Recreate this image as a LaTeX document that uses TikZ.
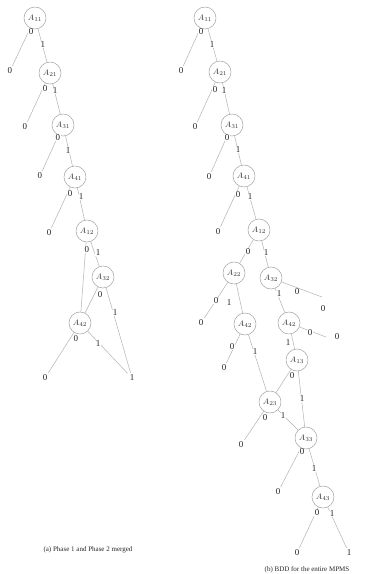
\documentclass[tikz,border=0pt]{standalone}
\usepackage{fontspec}
\setmainfont{Liberation Serif}
\begin{document}
\begin{tikzpicture}[x=1pt,y=-1pt,
  var/.style={circle,draw=black!35,line width=0.55pt,minimum size=22pt,inner sep=0pt,font=\fontsize{8.5}{9}\selectfont,text=black!80},
  term/.style={inner sep=2pt,font=\fontsize{9}{10}\selectfont,text=black!85},
  lab/.style={fill=white,inner sep=0.3pt,font=\fontsize{9}{10}\selectfont,text=black!85},
  conn/.style={draw=black!30,line width=0.5pt},
  captext/.style={font=\fontsize{7}{8}\selectfont,text=black!85}]
\useasboundingbox (0,0) rectangle (366,574);
% ---------- panel (a) ----------
\node[var] (a11) at (35,18) {$A_{11}$};
\node[var] (a21) at (50,73) {$A_{21}$};
\node[var] (a31) at (63,125) {$A_{31}$};
\node[var] (a41) at (75,177) {$A_{41}$};
\node[var] (a12) at (87,231) {$A_{12}$};
\node[var] (a32) at (103,277) {$A_{32}$};
\node[var] (a42) at (80,323) {$A_{42}$};
\node[term] (ta1) at (10,71) {0};
\node[term] (ta2) at (25,127) {0};
\node[term] (ta3) at (40,176) {0};
\node[term] (ta4) at (49,233) {0};
\node[term] (ta5) at (45,378) {0};
\node[term] (ta6) at (132,378) {1};
\draw[conn] (a11) -- (ta1);
\draw[conn] (a11) -- (a21);
\draw[conn] (a21) -- (ta2);
\draw[conn] (a21) -- (a31);
\draw[conn] (a31) -- (ta3);
\draw[conn] (a31) -- (a41);
\draw[conn] (a41) -- (ta4);
\draw[conn] (a41) -- (a12);
\draw[conn] (a12) -- (a42);
\draw[conn] (a12) -- (a32);
\draw[conn] (a32) -- (a42);
\draw[conn] (a32) -- (ta6);
\draw[conn] (a42) -- (ta5);
\draw[conn] (a42) -- (ta6);
\node[lab] (la1) at (31,32) {0};
\node[lab] (la2) at (43,45) {1};
\node[lab] (la3) at (45,89) {0};
\node[lab] (la4) at (55,91) {1};
\node[lab] (la5) at (58,138) {0};
\node[lab] (la6) at (68,151) {1};
\node[lab] (la7) at (70,194) {0};
\node[lab] (la8) at (81,197) {1};
\node[lab] (la9) at (87,250) {0};
\node[lab] (la10) at (98,253) {1};
\node[lab] (la11) at (100,295) {0};
\node[lab] (la12) at (115,313) {1};
\node[lab] (la13) at (76,339) {0};
\node[lab] (la14) at (98,344) {1};
\node[captext] (capa) at (88,550) {(a) Phase 1 and Phase 2 merged};
% ---------- panel (b) ----------
\node[var] (b11) at (205,18) {$A_{11}$};
\node[var] (b21) at (220,72) {$A_{21}$};
\node[var] (b31) at (232,125) {$A_{31}$};
\node[var] (b41) at (244,176) {$A_{41}$};
\node[var] (b12) at (259,230) {$A_{12}$};
\node[var] (b22) at (234,273) {$A_{22}$};
\node[var] (b32) at (271,278) {$A_{32}$};
\node[var] (b42l) at (245,324) {$A_{42}$};
\node[var] (b42r) at (289,323) {$A_{42}$};
\node[var] (b13) at (297,360) {$A_{13}$};
\node[var] (b23) at (270,402) {$A_{23}$};
\node[var] (b33) at (306,438) {$A_{33}$};
\node[var] (b43) at (323,497) {$A_{43}$};
\node[term] (tb1) at (181,71) {0};
\node[term] (tb2) at (195,127) {0};
\node[term] (tb3) at (209,177) {0};
\node[term] (tb4) at (218,232) {0};
\node[term] (tb5) at (201,323) {0};
\node[term] (tb6) at (323,309) {0};
\node[term] (tb7) at (337,337) {0};
\node[term] (tb8) at (224,368) {0};
\node[term] (tb9) at (241,445) {0};
\node[term] (tb10) at (278,492) {0};
\node[term] (tb11) at (297,553) {0};
\node[term] (tb12) at (349,553) {1};
\coordinate (e6) at (322,297);
\coordinate (e7) at (326,337);
\draw[conn] (b11) -- (tb1);
\draw[conn] (b11) -- (b21);
\draw[conn] (b21) -- (tb2);
\draw[conn] (b21) -- (b31);
\draw[conn] (b31) -- (tb3);
\draw[conn] (b31) -- (b41);
\draw[conn] (b41) -- (tb4);
\draw[conn] (b41) -- (b12);
\draw[conn] (b12) -- (b22);
\draw[conn] (b12) -- (b32);
\draw[conn] (b22) -- (tb5);
\draw[conn] (b22) -- (b42l);
\draw[conn] (b32) -- (e6);
\draw[conn] (b32) -- (b42r);
\draw[conn] (b42r) -- (e7);
\draw[conn] (b42r) -- (b13);
\draw[conn] (b42l) -- (tb8);
\draw[conn] (b42l) -- (b23);
\draw[conn] (b13) -- (b23);
\draw[conn] (b13) -- (b33);
\draw[conn] (b23) -- (tb9);
\draw[conn] (b23) -- (b33);
\draw[conn] (b33) -- (tb10);
\draw[conn] (b33) -- (b43);
\draw[conn] (b43) -- (tb11);
\draw[conn] (b43) -- (tb12);
\node[lab] (lb1) at (201,32) {0};
\node[lab] (lb2) at (212,45) {1};
\node[lab] (lb3) at (215,90) {0};
\node[lab] (lb4) at (224,91) {1};
\node[lab] (lb5) at (227,138) {0};
\node[lab] (lb6) at (238,150) {1};
\node[lab] (lb7) at (238,195) {0};
\node[lab] (lb8) at (250,197) {1};
\node[lab] (lb9) at (248,252) {0};
\node[lab] (lb10) at (266,253) {1};
\node[lab] (lb11) at (216,301) {0};
\node[lab] (lb12) at (229,303) {1};
\node[lab] (lb13) at (279,294) {1};
\node[lab] (lb14) at (297,292) {0};
\node[lab] (lb15) at (310,333) {0};
\node[lab] (lb16) at (288,343) {1};
\node[lab] (lb17) at (232,347) {0};
\node[lab] (lb18) at (255,352) {1};
\node[lab] (lb19) at (292,376) {0};
\node[lab] (lb20) at (302,399) {1};
\node[lab] (lb21) at (265,418) {0};
\node[lab] (lb22) at (283,416) {1};
\node[lab] (lb23) at (302,452) {0};
\node[lab] (lb24) at (314,469) {1};
\node[lab] (lb25) at (317,513) {0};
\node[lab] (lb26) at (332,514) {1};
\node[captext] (capb) at (307,570) {(b) BDD for the entire MPMS};
\end{tikzpicture}
\end{document}
